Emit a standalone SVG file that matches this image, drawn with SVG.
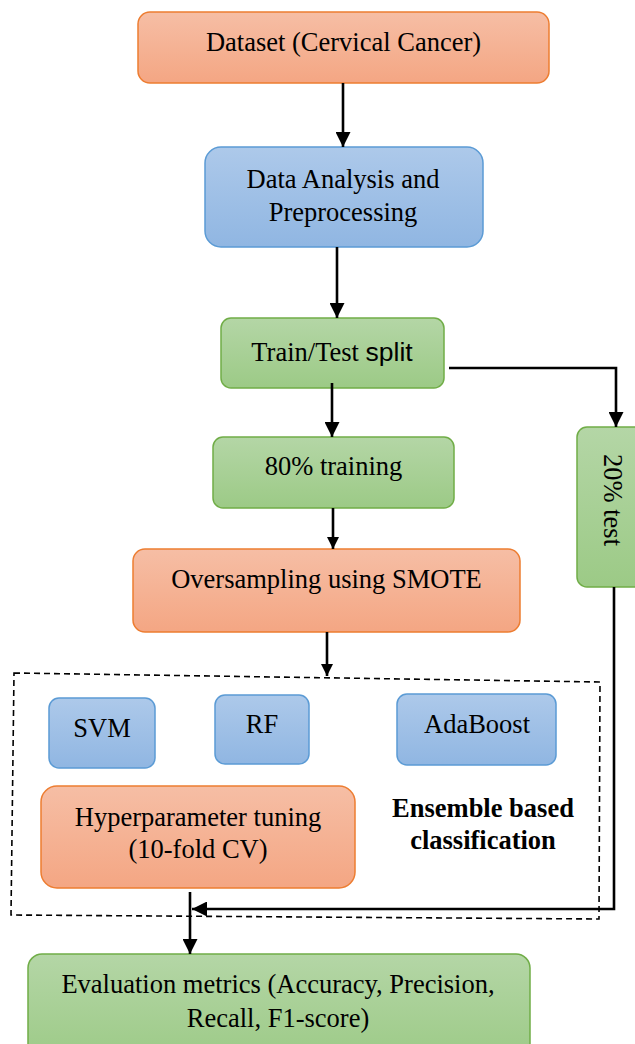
<svg xmlns="http://www.w3.org/2000/svg" width="635" height="1044" viewBox="0 0 635 1044">
<style>
  .t { font-family: "Liberation Serif", "Times New Roman", serif; font-size: 26.5px; fill: #000; text-anchor: middle; }
  .b { font-weight: bold; }
  .orange { fill: url(#gOrange); stroke: #ed7d31; stroke-width: 1.5; }
  .blue { fill: url(#gBlue); stroke: #5b9bd5; stroke-width: 1.5; }
  .green { fill: url(#gGreen); stroke: #70ad47; stroke-width: 1.5; }
  .conn { fill: none; stroke: #000; stroke-width: 2.6; }
  .dash { fill: none; stroke: #000; stroke-width: 1.6; stroke-dasharray: 6 4; }
</style>
<defs>
  <linearGradient id="gOrange" x1="0" y1="0" x2="0" y2="1">
    <stop offset="0" stop-color="#f6bea5"/>
    <stop offset="1" stop-color="#f4a683"/>
  </linearGradient>
  <linearGradient id="gBlue" x1="0" y1="0" x2="0" y2="1">
    <stop offset="0" stop-color="#adc9ea"/>
    <stop offset="1" stop-color="#90b6e2"/>
  </linearGradient>
  <linearGradient id="gGreen" x1="0" y1="0" x2="0" y2="1">
    <stop offset="0" stop-color="#b4d6a6"/>
    <stop offset="1" stop-color="#9cca86"/>
  </linearGradient>
  <marker id="arr" viewBox="0 0 10 10" refX="10" refY="5" markerWidth="15" markerHeight="15" markerUnits="userSpaceOnUse" orient="auto">
    <path d="M0,0 L10,5 L0,10 z" fill="#000"/>
  </marker>
  <marker id="arrS" viewBox="0 0 10 10" refX="10" refY="5" markerWidth="12" markerHeight="12" markerUnits="userSpaceOnUse" orient="auto">
    <path d="M0,0 L10,5 L0,10 z" fill="#000"/>
  </marker>
</defs>

<g id="ensemble-frame">
  <polygon class="dash" points="14,673 600,682 599,919 11,915"/>
</g>

<g id="dataset">
  <rect class="orange" x="138" y="12" width="411" height="71" rx="12"/>
  <text class="t" x="343.5" y="51">Dataset (Cervical Cancer)</text>
</g>

<g id="preprocessing">
  <rect class="blue" x="205" y="147" width="278" height="100" rx="16"/>
  <text class="t" x="343" y="188">Data Analysis and</text>
  <text class="t" x="343" y="221">Preprocessing</text>
</g>

<g id="split">
  <rect class="green" x="221" y="318" width="223" height="70" rx="10"/>
  <text class="t" x="332" y="361">Train/Test <tspan style="font-family: 'Liberation Sans', Arial, sans-serif;">split</tspan></text>
</g>

<g id="training">
  <rect class="green" x="213" y="437" width="241" height="71" rx="10"/>
  <text class="t" x="333.5" y="475">80% training</text>
</g>

<g id="test">
  <rect class="green" x="577" y="427" width="80" height="160" rx="10"/>
  <text class="t" transform="translate(604,500) rotate(90)" x="0" y="0">20% test</text>
</g>

<g id="smote">
  <rect class="orange" x="133" y="549" width="387" height="83" rx="12"/>
  <text class="t" x="326.5" y="588">Oversampling using SMOTE</text>
</g>

<g id="svm">
  <rect class="blue" x="49" y="698" width="106" height="70" rx="10"/>
  <text class="t" x="102" y="737">SVM</text>
</g>

<g id="rf">
  <rect class="blue" x="215" y="695" width="94" height="69" rx="10"/>
  <text class="t" x="262" y="733">RF</text>
</g>

<g id="adaboost">
  <rect class="blue" x="397" y="694" width="159" height="71" rx="10"/>
  <text class="t" x="477" y="733">AdaBoost</text>
</g>

<g id="tuning">
  <rect class="orange" x="41" y="786" width="314" height="102" rx="16"/>
  <text class="t" x="198" y="826">Hyperparameter tuning</text>
  <text class="t" x="198" y="858">(10-fold CV)</text>
</g>

<g id="ensemble-label">
  <text class="t b" x="483" y="817">Ensemble based</text>
  <text class="t b" x="483" y="849">classification</text>
</g>

<g id="evaluation">
  <rect class="green" x="28" y="954" width="502" height="110" rx="14"/>
  <text class="t" x="278" y="993">Evaluation metrics (Accuracy, Precision,</text>
  <text class="t" x="278" y="1027">Recall, F1-score)</text>
</g>

<g id="connectors">
  <line class="conn" x1="343" y1="83" x2="343" y2="147" marker-end="url(#arr)"/>
  <line class="conn" x1="337" y1="247" x2="337" y2="318" marker-end="url(#arr)"/>
  <line class="conn" x1="332" y1="383" x2="332" y2="437" marker-end="url(#arr)"/>
  <polyline class="conn" points="449,368 616,368 616,427" marker-end="url(#arr)"/>
  <line class="conn" x1="333" y1="508" x2="333" y2="549" marker-end="url(#arrS)"/>
  <line class="conn" x1="327" y1="632" x2="327" y2="676" marker-end="url(#arrS)"/>
  <polyline class="conn" points="614,587 614,909 192,909" marker-end="url(#arr)"/>
  <line class="conn" x1="190" y1="892" x2="190" y2="954" marker-end="url(#arr)"/>
</g>
</svg>
